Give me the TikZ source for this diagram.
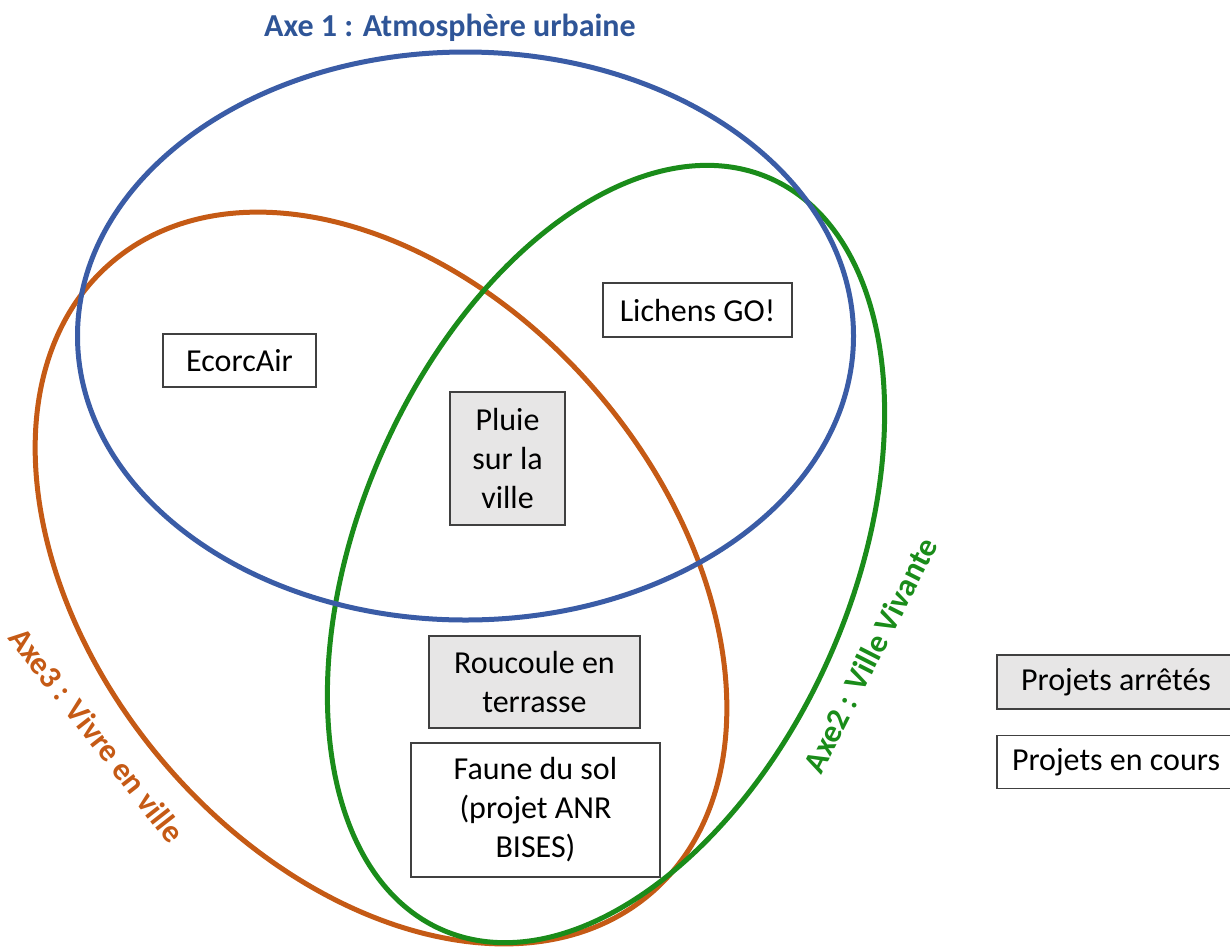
\documentclass[tikz,border=0pt]{standalone}
\usepackage{fontspec}
\setmainfont{Carlito}
\usetikzlibrary{shapes.geometric}
\definecolor{axeblue}{HTML}{3A5CA6}
\definecolor{titleblue}{HTML}{2F5597}
\definecolor{axeorange}{HTML}{C55A15}
\definecolor{axegreen}{HTML}{1A8C1A}
\definecolor{grayfill}{HTML}{E7E6E6}
\begin{document}
\begin{tikzpicture}[x=1pt,y=-1pt,
  axe/.style={draw, ellipse, line width=5pt, inner sep=0pt},
  proj/.style={draw=black!75, line width=1.3pt, align=center, inner sep=0pt,
    font=\fontsize{32}{39}\selectfont},
  stopped/.style={proj, fill=grayfill},
  running/.style={proj, fill=white},
  axelabel/.style={font=\fontsize{32}{39}\selectfont\bfseries, inner sep=0pt}
]
\path[use as bounding box] (0,0) rectangle (1230,946);
\clip (0,0) rectangle (1230,946);

% axes (ellipses)
\node[axe, draw=axeorange, minimum width=830pt, minimum height=570pt, rotate=-49.5] (e3) at (381,578) {};
\node[axe, draw=axegreen, minimum width=820pt, minimum height=492pt, rotate=66.5] (e2) at (606,554) {};
\node[axe, draw=axeblue, minimum width=776pt, minimum height=568pt] (e1) at (465.5,336) {};

% axis labels
\node[axelabel, text=titleblue] (l1) at (450,28) {Axe 1 : Atmosphère urbaine};
\node[axelabel, text=axegreen, rotate=63] (l2) at (870,655) {Axe2 : Ville Vivante};
\node[axelabel, text=axeorange, rotate=-52] (l3) at (97,735) {Axe3 : Vivre en ville};

% projects
\node[running, minimum width=153pt, minimum height=53pt] (ecorc) at (239.5,360.5) {EcorcAir};
\node[running, minimum width=189pt, minimum height=54pt] (lichens) at (697.5,310) {Lichens GO!};
\node[stopped, minimum width=115pt, minimum height=133pt] (pluie) at (507.5,458.5) {Pluie\\sur la\\ville};
\node[stopped, minimum width=211pt, minimum height=92pt] (roucoule) at (534.5,682) {Roucoule en\\terrasse};
\node[running, minimum width=249pt, minimum height=134pt] (faune) at (535.5,810) {Faune du sol\\(projet ANR\\BISES)};

% legend
\node[stopped, minimum width=238pt, minimum height=54pt] (legstop) at (1116,682) {Projets arrêtés};
\node[running, minimum width=238pt, minimum height=53pt] (legrun) at (1116,762) {Projets en cours};
\end{tikzpicture}
\end{document}
